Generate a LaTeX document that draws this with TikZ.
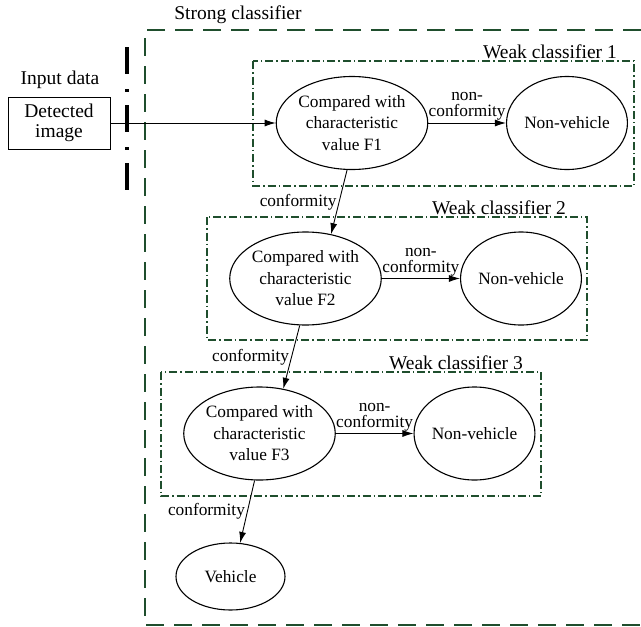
\documentclass[tikz,border=0pt]{standalone}
\usepackage{fontspec}
\setmainfont{Liberation Serif}
\usetikzlibrary{shapes.geometric,arrows.meta}
\definecolor{dkgreen}{RGB}{31,78,45}
\tikzset{cmp/.style={ellipse,draw,line width=1.1pt,minimum width=145pt,minimum height=93pt,inner sep=0pt,align=center,font=\fontsize{17.3}{21.5}\selectfont}}
\tikzset{nv/.style={cmp,minimum width=117pt}}
\tikzset{veh/.style={cmp,minimum width=109pt,minimum height=67pt}}
\tikzset{inbox/.style={rectangle,draw,line width=1pt,minimum width=102pt,minimum height=52pt,inner sep=0pt,align=center,font=\fontsize{19.5}{20}\selectfont}}
\tikzset{lbl/.style={align=center,inner sep=2pt,font=\fontsize{17.3}{16}\selectfont}}
\tikzset{title/.style={inner sep=1pt,font=\fontsize{19.5}{20}\selectfont}}
\tikzset{weakbox/.style={draw=dkgreen,line width=2pt,dash pattern=on 8pt off 3pt on 1.5pt off 3pt}}
\tikzset{strongbox/.style={draw=dkgreen,line width=2.5pt,dash pattern=on 18pt off 10pt}}
\tikzset{sepline/.style={line width=4pt,dash pattern=on 27pt off 15pt on 3pt off 13pt}}
\tikzset{flow/.style={->,>={Latex[length=11pt,width=7pt]},line width=0.9pt}}

\begin{document}
\begin{tikzpicture}[x=1pt,y=-1pt]
\useasboundingbox (0,0) rectangle (641,627);

% outer and inner frames
\draw[strongbox] (641,30) -- (145,30) -- (145,625) -- (641,625);
\node[title] (strong) at (238,15) {Strong classifier};
\draw[weakbox] (253,61) rectangle (634,186);
\node[title,anchor=south east] (weak1) at (618,60) {Weak classifier 1};
\draw[weakbox] (207,217) rectangle (587,340);
\node[title,anchor=south east] (weak2) at (567,216) {Weak classifier 2};
\draw[weakbox] (161,372) rectangle (541,496);
\node[title,anchor=south east] (weak3) at (524,371) {Weak classifier 3};
\draw[sepline] (127,47) -- (127,190);

% input
\node[title] (input) at (60,80) {Input data};
\node[inbox] (img) at (59,123) {Detected\\image};

% classifier nodes
\node[cmp](f1) at (352,123) {Compared with\\characteristic\\value F1};
\node[nv](nv1) at (567,123) {Non-vehicle};
\node[cmp](f2) at (305.5,278.5) {Compared with\\characteristic\\value F2};
\node[nv](nv2) at (521,278.5) {Non-vehicle};
\node[cmp](f3) at (259.5,433.5) {Compared with\\characteristic\\value F3};
\node[nv](nv3) at (474.5,433.5) {Non-vehicle};
\node[veh](veh) at (230.5,576.5) {Vehicle};

\draw[flow] (img) -- (f1);
\draw[flow] (f1) -- node[lbl,above] {non-\\conformity} (nv1);
\draw[flow] (f2) -- node[lbl,above] {non-\\conformity} (nv2);
\draw[flow] (f3) -- node[lbl,above] {non-\\conformity} (nv3);
\draw[flow] (f1.264) -- node[lbl,left] {conformity} (f2.60);
\draw[flow] (f2.263) -- node[lbl,left] {conformity} (f3.62);
\draw[flow] (f3.264) -- node[lbl,left] {conformity} (veh.74);

    \end{tikzpicture}
\end{document}
